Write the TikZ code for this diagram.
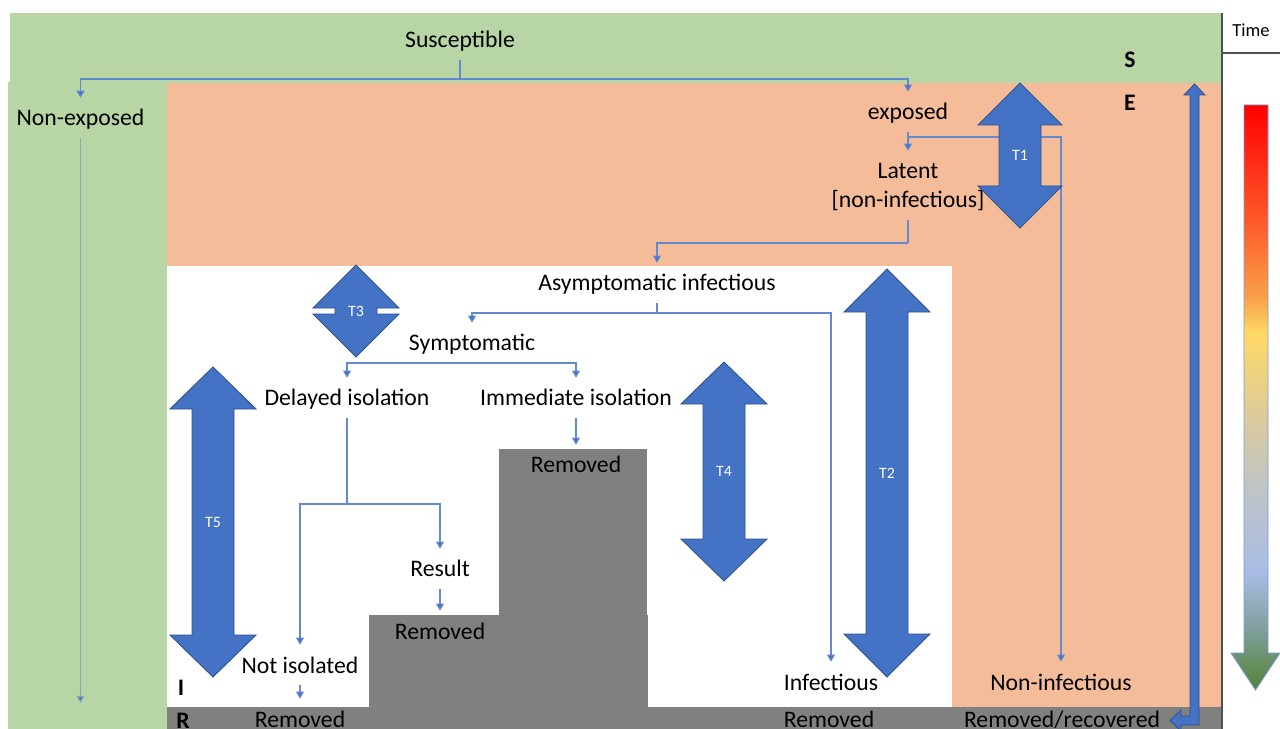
\documentclass[tikz,border=0pt]{standalone}
\usepackage{fontspec}
\setmainfont{Carlito}
\usetikzlibrary{arrows.meta}
\definecolor{sgreen}{HTML}{B8D5A6}
\definecolor{eorange}{HTML}{F4BC98}
\definecolor{rgray}{HTML}{808080}
\definecolor{tblue}{HTML}{4472C4}
\definecolor{tblueb}{HTML}{2F528F}
\definecolor{connc}{HTML}{6389CF}
\definecolor{conng}{HTML}{86AAAE}
\definecolor{boxline}{HTML}{505050}
\definecolor{ga}{HTML}{548235}
\definecolor{gb}{HTML}{7E9E98}
\definecolor{gc}{HTML}{A9BCE4}
\definecolor{gd}{HTML}{C0C4C4}
\definecolor{ge}{HTML}{DCCB9B}
\definecolor{gf}{HTML}{FFD966}
\definecolor{gg}{HTML}{F8A24A}
\definecolor{gh}{HTML}{FF5A2A}
\definecolor{gi}{HTML}{FF0000}
\pgfdeclareverticalshading{timegrad}{100bp}{color(0bp)=(ga); color(25bp)=(ga); color(30bp)=(gb); color(35bp)=(gc); color(42.5bp)=(gd); color(48.5bp)=(ge); color(55.5bp)=(gf); color(58.5bp)=(gg); color(65bp)=(gh); color(75bp)=(gi); color(100bp)=(gi)}
\tikzset{
  txt/.style={font=\fontsize{13.5}{16}\selectfont, text height=10pt, text depth=0.9pt, inner ysep=5.9pt, inner xsep=2pt},
  lett/.style={font=\fontsize{13.5}{16}\selectfont\bfseries, inner sep=1pt},
  tlab/.style={font=\fontsize{9}{10}\selectfont, text=white, inner sep=1pt},
  conn/.style={draw=connc, line width=0.6pt},
  tip/.style={-{Triangle[width=4.5pt,length=4pt,fill=tblue]}},
  blockarrow/.style={fill=tblue, draw=tblueb, line width=0.5pt, line join=miter}
}
\newcommand\dblarrow[8]{%
  \draw[blockarrow] (#2,#3) -- ({#2+#5},{#3+#7}) -- ({#2+#6},{#3+#7}) -- ({#2+#6},{#4-#7}) -- ({#2+#5},{#4-#7}) -- (#2,#4) -- ({#2-#5},{#4-#7}) -- ({#2-#6},{#4-#7}) -- ({#2-#6},{#3+#7}) -- ({#2-#5},{#3+#7}) -- cycle;
  \node[tlab] (#1) at (#2,{(#3+#4)/2}) {#8};}
\begin{document}
\begin{tikzpicture}[x=0.02cm,y=-0.02cm]
\useasboundingbox (0,0) rectangle (1280,729);
\fill[white] (0,0) rectangle (1280,729);
% regions
\fill[sgreen] (10,13) rectangle (1222,83);
\fill[sgreen] (8,82) rectangle (167,729);
\fill[eorange] (167,83) rectangle (1222,707);
\fill[white] (167,266) rectangle (952,707);
\fill[rgray] (167,707) rectangle (1222,729);
\fill[rgray] (369,615) rectangle (648,707);
\fill[rgray] (499,449) rectangle (647,615);
% time column
\draw[boxline, line width=0.7pt] (1222,13) -- (1222,729);
\draw[boxline, line width=0.7pt] (1222,53) -- (1280,53);
\node[font=\fontsize{10.5}{12}\selectfont, inner sep=1pt] (time) at (1251,30) {Time};
\shadedraw[shading=timegrad, draw=tblue!70, line width=0.5pt] (1244,105) -- (1268,105) -- (1268,653) -- (1280,653) -- (1255.5,690) -- (1231,653) -- (1244,653) -- cycle;
% letters
\node[lett] (sS) at (1130,60) {S};
\node[lett] (sE) at (1130,103) {E};
\node[lett] (sI) at (181,688) {I};
\node[lett] (sR) at (183,721) {R};
% text nodes
\node[txt] (sus) at (460,40) {Susceptible};
\node[txt] (nexp) at (80.5,118) {Non-exposed};
\node[txt] (exp) at (908,112) {exposed};
\node[txt] (lat1) at (908,171) {Latent};
\node[txt] (lat2) at (908,200) {[non-infectious]};
\node[txt] (asym) at (657,283) {Asymptomatic infectious};
\node[txt] (symp) at (472,343) {Symptomatic};
\node[txt] (del) at (347,398) {Delayed isolation};
\node[txt] (imm) at (576,398) {Immediate isolation};
\node[txt] (rem1) at (576,465) {Removed};
\node[txt] (res) at (440,569) {Result};
\node[txt] (rem2) at (440,631) {Removed};
\node[txt] (notiso) at (300,665) {Not isolated};
\node[txt] (rem3) at (300,719) {Removed};
\node[txt] (inf) at (831,682) {Infectious};
\node[txt] (rem4) at (829,719) {Removed};
\node[txt] (ninf) at (1061,682) {Non-infectious};
\node[txt] (remrec) at (1062,719) {Removed/recovered};
% connectors
\coordinate (jS) at (460,79);
\draw[conn] (sus.south) -- (jS);
\draw[conn,tip] (jS) -| (nexp.north);
\draw[conn,tip] (jS) -| (exp.north);
\coordinate (nexpEnd) at (80.5,703);
\draw[conn,draw=conng,tip] (nexp.south) -- (nexpEnd);
\coordinate (jE) at (908,137);
\draw[conn] (exp.south) -- (jE);
\draw[conn,tip] (jE) -- (lat1.north);
\draw[conn,tip] (jE) -| (ninf.north);
\coordinate (jL) at (908,243);
\draw[conn] (lat2.south) -- (jL);
\draw[conn,tip] (jL) -| (asym.north);
\coordinate (jA) at (657,313);
\draw[conn] (asym.south) -- (jA);
\draw[conn,tip] (jA) -| (symp.north);
\draw[conn,tip] (jA) -| (inf.north);
\coordinate (jSy) at (472,363);
\draw[conn] (symp.south) -- (jSy);
\draw[conn,tip] (jSy) -| (del.north);
\draw[conn,tip] (jSy) -| (imm.north);
\coordinate (jD) at (347,504);
\draw[conn] (del.south) -- (jD);
\draw[conn,tip] (jD) -| (notiso.north);
\draw[conn,tip] (jD) -| (res.north);
\draw[conn,tip] (imm.south) -- (rem1.north);
\draw[conn,tip] (res.south) -- (rem2.north);
\draw[conn,tip] (notiso.south) -- (rem3.north);
% block arrows
\dblarrow{T1}{1020}{83}{228}{42}{21}{42}{T1}
\dblarrow{T2}{887}{269}{677}{43}{21}{43}{T2}
\dblarrow{T3}{356}{265}{357}{43}{21}{43}{T3}
\dblarrow{T4}{724}{362}{581}{43}{21}{42}{T4}
\dblarrow{T5}{213}{367}{677}{43}{21}{42}{T5}
% long bent arrow
\draw[blockarrow] (1194.5,84) -- (1205,95) -- (1199,95) -- (1199,725) -- (1181,725) -- (1181,731) -- (1170,720.5) -- (1181,710) -- (1181,716) -- (1190,716) -- (1190,95) -- (1184,95) -- cycle;
\end{tikzpicture}
\end{document}
